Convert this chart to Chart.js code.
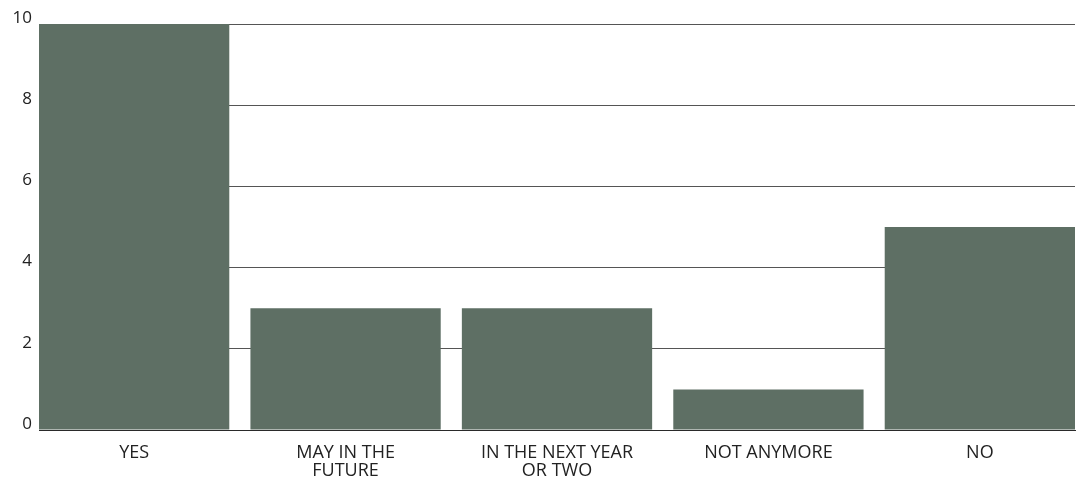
<!DOCTYPE html>
<html>
<head>
<meta charset="utf-8">
<script src="https://cdn.jsdelivr.net/npm/chart.js@4/dist/chart.umd.min.js"></script>
<style>
  html, body { margin: 0; padding: 0; background: #fff; }
  #wrap { width: 1081px; height: 479px; position: relative; }
</style>
</head>
<body>
<div id="wrap"><canvas id="chart"></canvas></div>
<script>
// ── Data ──────────────────────────────────────────────
const categories = ['YES', ['MAY IN THE', 'FUTURE'], ['IN THE NEXT YEAR', 'OR TWO'], 'NOT ANYMORE', 'NO'];
const counts = [10, 3, 3, 1, 5];
const yTicks = [0, 2, 4, 6, 8, 10];

const BAR_COLOR = '#5e6f64';
const FONT = 'Open Sans, DejaVu Sans, sans-serif';

// bars sit flush with both ends of the plot, so x runs on a linear
// scale that stops at the outer bar edges (bar width = 0.9 of a slot)
const HALF_BAR = 0.45;
const points = counts.map((v, i) => ({ x: i, y: v }));

const ctx = document.getElementById('chart').getContext('2d');

new Chart(ctx, {
  type: 'bar',
  data: {
    datasets: [{
      data: points,
      backgroundColor: BAR_COLOR,
      borderWidth: 0,
      categoryPercentage: 1,
      barPercentage: 0.9
    }]
  },
  options: {
    responsive: true,
    maintainAspectRatio: false,
    animation: false,
    layout: { padding: { top: 24, right: 6, left: 0, bottom: 0 } },
    plugins: {
      legend: { display: false },
      tooltip: { enabled: false }
    },
    scales: {
      x: {
        type: 'linear',
        offset: false,
        min: -HALF_BAR,
        max: categories.length - 1 + HALF_BAR,
        grid: { display: false, drawTicks: false },
        border: { display: true, color: '#2a2a2a', width: 1 },
        afterBuildTicks: s => { s.ticks = categories.map((c, i) => ({ value: i })); },
        ticks: {
          color: '#222',
          padding: 14,
          maxRotation: 0,
          autoSkip: false,
          font: { family: FONT, size: 18, lineHeight: 1.0 },
          callback: v => categories[v]
        },
        afterFit: s => { s.height = 49; }
      },
      y: {
        min: 0,
        max: 10,
        border: { display: false },
        grid: {
          drawTicks: false,
          color: c => c.tick && c.tick.value === 0 ? '#2a2a2a' : '#555',
          lineWidth: 1
        },
        afterBuildTicks: s => { s.ticks = yTicks.map(v => ({ value: v })); },
        ticks: {
          color: '#222',
          padding: 7,
          labelOffset: -6,
          font: { family: FONT, size: 17 }
        },
        afterFit: s => { s.width = 39; }
      }
    }
  }
});
</script>
</body>
</html>
